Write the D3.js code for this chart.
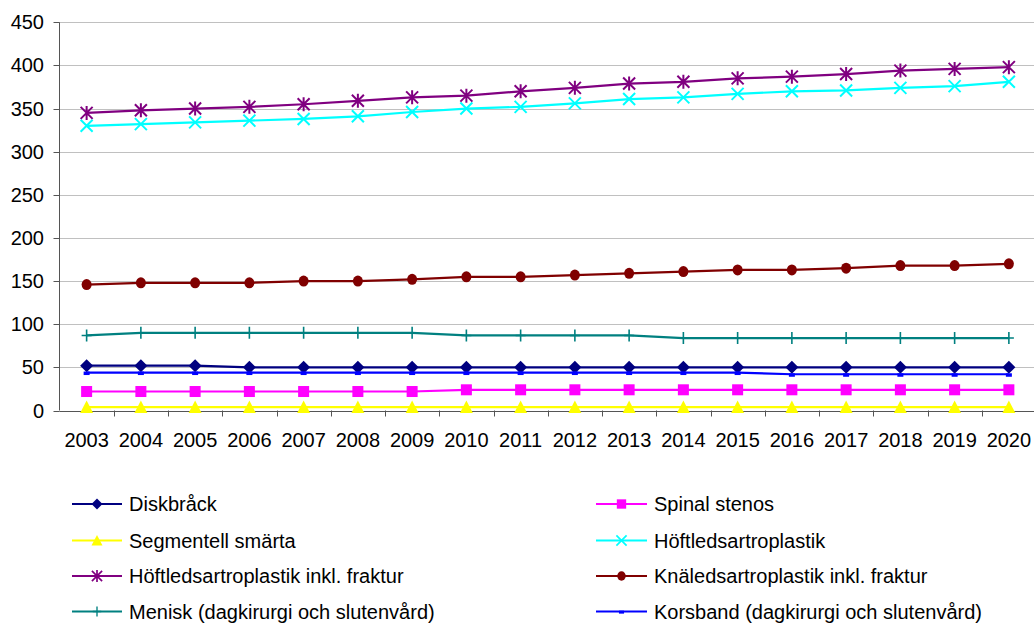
<!DOCTYPE html>
<html>
<head>
<meta charset="utf-8">
<script src="https://cdn.jsdelivr.net/npm/d3@7"></script>
<style>
  html, body { margin: 0; padding: 0; background: #fff; }
  svg { display: block; font-family: "Liberation Sans", Arial, sans-serif; }
  .tick-label { font-size: 20px; fill: #000; }
  .legend-label { font-size: 20px; fill: #000; }
</style>
</head>
<body>
<div id="chart"></div>
<script>
// Data
const YEARS = ["2003","2004","2005","2006","2007","2008","2009","2010","2011",
               "2012","2013","2014","2015","2016","2017","2018","2019","2020"];
const Y_TICKS = [0, 50, 100, 150, 200, 250, 300, 350, 400, 450];

const diskbrack    = [52, 52, 52, 50, 50, 50, 50, 50, 50, 50, 50, 50, 50, 50, 50, 50, 50, 50];
const spinal       = [22, 22, 22, 22, 22, 22, 22, 24, 24, 24, 24, 24, 24, 24, 24, 24, 24, 24];
const segmentell   = [4, 4, 4, 4, 4, 4, 4, 4, 4, 4, 4, 4, 4, 4, 4, 4, 4, 4];
const hoftled      = [330, 332, 334, 336, 338, 341, 346, 350, 352, 356, 361, 363, 367, 370, 371, 374, 376, 381];
const hoftledFrakt = [345, 348, 350, 352, 355, 359, 363, 365, 370, 374, 379, 381, 385, 387, 390, 394, 396, 398];
const knaled       = [146, 148, 148, 148, 150, 150, 152, 155, 155, 157, 159, 161, 163, 163, 165, 168, 168, 170];
const menisk       = [87, 90, 90, 90, 90, 90, 90, 87, 87, 87, 87, 84, 84, 84, 84, 84, 84, 84];
const korsband     = [44, 44, 44, 44, 44, 44, 44, 44, 44, 44, 44, 44, 44, 42, 42, 42, 42, 42];

const SERIES = [
  { name: "Diskbråck", values: diskbrack, color: "#000080", marker: "diamond" },
  { name: "Spinal stenos", values: spinal, color: "#FF00FF", marker: "square" },
  { name: "Segmentell smärta", values: segmentell, color: "#FFFF00", marker: "triangle" },
  { name: "Höftledsartroplastik", values: hoftled, color: "#00FFFF", marker: "x" },
  { name: "Höftledsartroplastik inkl. fraktur", values: hoftledFrakt, color: "#800080", marker: "star" },
  { name: "Knäledsartroplastik inkl. fraktur", values: knaled, color: "#800000", marker: "circle" },
  { name: "Menisk (dagkirurgi och slutenvård)", values: menisk, color: "#008080", marker: "plus" },
  { name: "Korsband (dagkirurgi och slutenvård)", values: korsband, color: "#0000FF", marker: "dash" },
];

const W = 1034, H = 623;
const PLOT = { left: 59.5, right: 1036, top: 22.3, bottom: 410.5 };

const svg = d3.select("#chart").append("svg").attr("width", W).attr("height", H);

const x = d3.scaleBand().domain(YEARS).range([PLOT.left, PLOT.right]).paddingInner(0).paddingOuter(0);
const y = d3.scaleLinear().domain([0, 450]).range([PLOT.bottom, PLOT.top]);
const cx = (yr) => x(yr) + x.bandwidth() / 2;

// gridlines
svg.append("g").selectAll("line.grid")
  .data(Y_TICKS.filter((d) => d > 0))
  .join("line")
  .attr("x1", PLOT.left).attr("x2", W)
  .attr("y1", (d) => Math.round(y(d)) + 0.5).attr("y2", (d) => Math.round(y(d)) + 0.5)
  .attr("stroke", "#c0c0c0").attr("stroke-width", 1);

// y axis
const yAxis = svg.append("g");
yAxis.append("line")
  .attr("x1", PLOT.left).attr("x2", PLOT.left)
  .attr("y1", y(450)).attr("y2", y(0))
  .attr("stroke", "#555").attr("stroke-width", 1);
yAxis.selectAll("line.yt").data(Y_TICKS).join("line")
  .attr("x1", PLOT.left - 6).attr("x2", PLOT.left)
  .attr("y1", (d) => Math.round(y(d)) + 0.5).attr("y2", (d) => Math.round(y(d)) + 0.5)
  .attr("stroke", "#555");
yAxis.selectAll("text").data(Y_TICKS).join("text")
  .attr("class", "tick-label")
  .attr("x", 44).attr("y", (d) => y(d))
  .attr("dy", "0.35em")
  .attr("text-anchor", "end")
  .text((d) => d);

// x axis
const xAxis = svg.append("g");
xAxis.append("line")
  .attr("x1", PLOT.left).attr("x2", W)
  .attr("y1", Math.round(y(0)) + 0.5).attr("y2", Math.round(y(0)) + 0.5)
  .attr("stroke", "#555");
xAxis.selectAll("line.xt").data(YEARS.slice(1)).join("line")
  .attr("x1", (d) => Math.round(x(d)) + 0.5).attr("x2", (d) => Math.round(x(d)) + 0.5)
  .attr("y1", y(0)).attr("y2", y(0) + 6)
  .attr("stroke", "#555");
xAxis.selectAll("text").data(YEARS).join("text")
  .attr("class", "tick-label")
  .attr("x", (d) => cx(d)).attr("y", 447)
  .attr("text-anchor", "middle")
  .text((d) => d);

// markers
function drawMarker(sel, type, color) {
  if (type === "diamond") {
    sel.append("path").attr("d", "M0,-6.5L6.5,0L0,6.5L-6.5,0Z").attr("fill", color);
  } else if (type === "square") {
    sel.append("rect").attr("x", -5.5).attr("y", -5.5).attr("width", 11).attr("height", 11).attr("fill", color);
  } else if (type === "triangle") {
    sel.append("path").attr("d", "M0,-6.5L6.5,6L-6.5,6Z").attr("fill", color);
  } else if (type === "circle") {
    sel.append("ellipse").attr("rx", 5).attr("ry", 5.5).attr("fill", color);
  } else if (type === "x") {
    sel.append("path").attr("d", "M-6,-6L6,6M-6,6L6,-6")
      .attr("stroke", color).attr("stroke-width", 2).attr("fill", "none");
  } else if (type === "star") {
    sel.append("path").attr("d", "M-6,-6L6,6M-6,6L6,-6M0,-7L0,7")
      .attr("stroke", color).attr("stroke-width", 2).attr("fill", "none");
  } else if (type === "plus") {
    sel.append("path").attr("d", "M0,-6L0,6M-5,0L5,0")
      .attr("stroke", color).attr("stroke-width", 1.6).attr("fill", "none");
  } else if (type === "dash") {
    sel.append("rect").attr("x", -3).attr("y", -1).attr("width", 6).attr("height", 3.5).attr("fill", color);
  }
}

const line = d3.line().x((d) => cx(d.year)).y((d) => y(d.v));

const seriesG = svg.append("g");
SERIES.forEach((s) => {
  const pts = s.values.map((v, i) => ({ year: YEARS[i], v }));
  const g = seriesG.append("g");
  g.append("path")
    .attr("d", line(pts))
    .attr("fill", "none")
    .attr("stroke", s.color)
    .attr("stroke-width", 2.2);
  g.selectAll("g.m").data(pts).join("g")
    .attr("transform", (d) => `translate(${cx(d.year)},${y(d.v)})`)
    .each(function () { drawMarker(d3.select(this), s.marker, s.color); });
});

// legend, two columns
const LEG_ROWS = [504, 540.5, 576, 611.5];
const LEG_COLS = [{ x1: 72, x2: 122, tx: 129 }, { x1: 596, x2: 647, tx: 654 }];
const legend = svg.append("g");
SERIES.forEach((s, i) => {
  const col = LEG_COLS[i % 2];
  const ry = LEG_ROWS[Math.floor(i / 2)];
  const g = legend.append("g");
  g.append("line")
    .attr("x1", col.x1).attr("x2", col.x2)
    .attr("y1", ry).attr("y2", ry)
    .attr("stroke", s.color).attr("stroke-width", 2.2);
  const mg = g.append("g").attr("transform", `translate(${(col.x1 + col.x2) / 2},${ry}) scale(0.85)`);
  drawMarker(mg, s.marker, s.color);
  g.append("text")
    .attr("class", "legend-label")
    .attr("x", col.tx).attr("y", ry)
    .attr("dy", "0.35em")
    .text(s.name);
});
</script>
</body>
</html>
